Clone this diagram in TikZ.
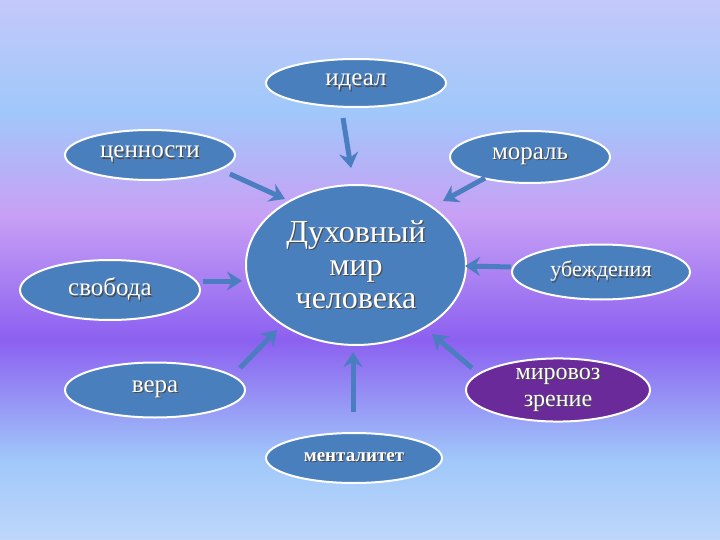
\documentclass[tikz,border=0pt]{standalone}
\usepackage{fontspec}
\setmainfont{Liberation Serif}
\usetikzlibrary{arrows.meta,shapes.geometric}
\newcommand\shtxt[1]{\leavevmode\rlap{\hspace{1.2pt}\raisebox{-1.2pt}{\color{black!70}#1}}#1}
\definecolor{nodeblue}{HTML}{4A7FBE}
\definecolor{nodepurple}{HTML}{6A2A9A}
\definecolor{arrowblue}{HTML}{4B7EC0}
\tikzset{
  bub/.style={ellipse, draw=white, line width=2pt, fill=nodeblue, text=white, inner sep=0pt, font=\fontsize{25}{27}\selectfont},
  arr/.style={draw=arrowblue, line width=5pt, -{Stealth[length=15pt,width=19pt,inset=5pt]}},
}
\begin{document}
\begin{tikzpicture}[x=1pt,y=-1pt]
\useasboundingbox (0,0) rectangle (720,540);
\shade[top color={rgb,255:red,196;green,200;blue,250}, bottom color={rgb,255:red,160;green,200;blue,250}] (0,0) rectangle (720,110);
\shade[top color={rgb,255:red,160;green,200;blue,250}, bottom color={rgb,255:red,200;green,160;blue,245}] (0,110) rectangle (720,215);
\shade[top color={rgb,255:red,200;green,160;blue,245}, bottom color={rgb,255:red,140;green,96;blue,240}] (0,215) rectangle (720,340);
\shade[top color={rgb,255:red,140;green,96;blue,240}, bottom color={rgb,255:red,160;green,200;blue,250}] (0,340) rectangle (720,460);
\shade[top color={rgb,255:red,160;green,200;blue,250}, bottom color={rgb,255:red,190;green,215;blue,250}] (0,460) rectangle (720,540);

\node[bub, minimum width=180, minimum height=48] (ideal) at (356,83) {\shtxt{идеал}};
\node[bub, minimum width=170, minimum height=50] (cen) at (150,155) {\shtxt{ценности}};
\node[bub, minimum width=160, minimum height=52] (mor) at (530,157) {\shtxt{мораль}};
\node[bub, minimum width=220, minimum height=160, font=\fontsize{32}{33}\selectfont, align=center] (c) at (356,265) {\shtxt{Духовный}\\\shtxt{мир}\\\shtxt{человека}};
\node[bub, minimum width=180, minimum height=60] (svo) at (110,290) {\shtxt{свобода}};
\node[bub, minimum width=178, minimum height=55, font=\fontsize{22}{24}\selectfont] (ube) at (601,272) {\shtxt{убеждения}};
\node[bub, minimum width=180, minimum height=55] (ver) at (155,390) {\shtxt{вера}};
\node[bub, fill=nodepurple, minimum width=184, minimum height=55, align=center, font=\fontsize{24}{27}\selectfont] (mir) at (558,390) {\shtxt{мировоз}\\\shtxt{зрение}};
\node[bub, minimum width=176, minimum height=50, font=\bfseries\fontsize{19}{21}\selectfont] (men) at (354,458) {\shtxt{менталитет}};

\coordinate (i1) at (343,118); \coordinate (i2) at (351,168);
\coordinate (c1) at (230,174); \coordinate (c2) at (285,199);
\coordinate (m1) at (485,178); \coordinate (m2) at (443,201);
\coordinate (s1) at (203,281); \coordinate (s2) at (242,281);
\coordinate (u1) at (511,267); \coordinate (u2) at (465,266);
\coordinate (v1) at (240,368); \coordinate (v2) at (277,330);
\coordinate (n1) at (353,412); \coordinate (n2) at (353,352);
\coordinate (r1) at (472,368); \coordinate (r2) at (432,334);
\draw[arr] (i1) -- (i2);
\draw[arr] (c1) -- (c2);
\draw[arr] (m1) -- (m2);
\draw[arr] (s1) -- (s2);
\draw[arr] (u1) -- (u2);
\draw[arr] (v1) -- (v2);
\draw[arr] (n1) -- (n2);
\draw[arr] (r1) -- (r2);
\end{tikzpicture}
\end{document}
